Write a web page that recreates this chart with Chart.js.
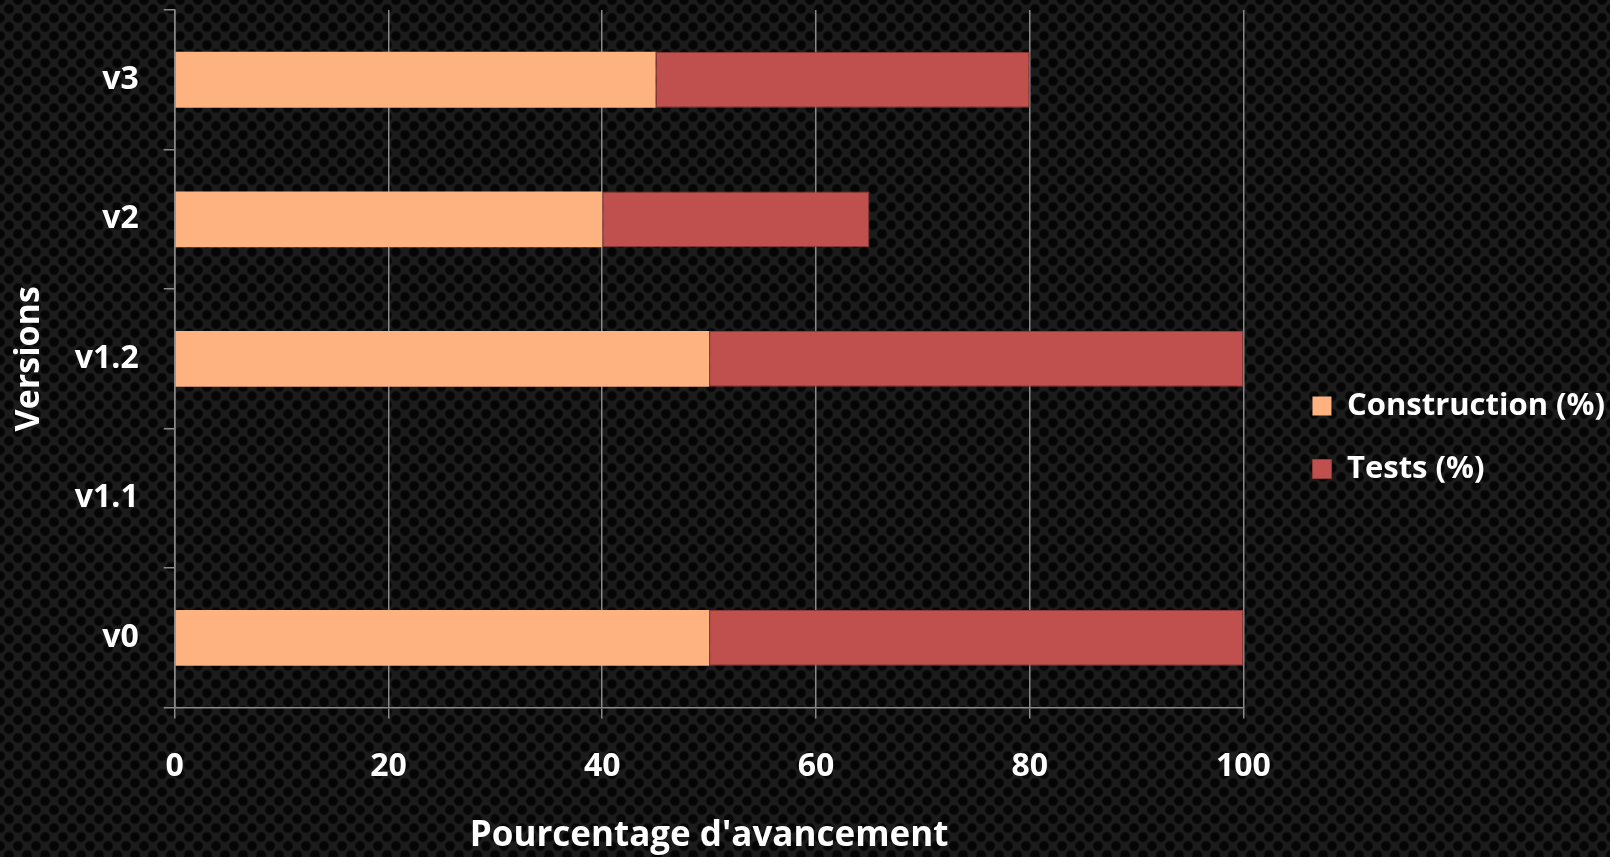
<!DOCTYPE html>
<html>
<head>
<meta charset="utf-8">
<script src="https://cdn.jsdelivr.net/npm/chart.js@4.4.1/dist/chart.umd.min.js"></script>
<style>
  html, body { margin: 0; padding: 0; }
  body {
    width: 1610px; height: 857px; overflow: hidden;
    background-color: #1c1c1c;
    background-image:
      radial-gradient(circle, #050505 30%, rgba(0,0,0,0) 46%),
      radial-gradient(circle, #050505 30%, rgba(0,0,0,0) 46%);
    background-size: 18px 18px;
    background-position: 0 0, 9px 9px;
  }
  #wrap { position: relative; width: 1610px; height: 857px; }
</style>
</head>
<body>
<div id="wrap"><canvas id="chart"></canvas></div>
<script>
// === données ===
const versions = ["v0", "v1.1", "v1.2", "v2", "v3"];
const construction = [50, null, 50, 40, 45];
const tests = [50, null, 50, 25, 35];
const xTicks = [0, 20, 40, 60, 80, 100];

const FONT = "Open Sans";
const gridColor = "#8a8a8a";
const GAP = 32;

// espace entre le graphique et la légende
const legendGap = {
    id: "legendGap",
    beforeInit(chart) {
        const fit = chart.legend.fit;
        chart.legend.fit = function () {
            fit.call(this);
            this.width += GAP;
        };
    },
    afterLayout(chart) {
        chart.legend.left += GAP + 5;
        chart.legend.top += 8;
    },
};

const ctx = document.getElementById("chart").getContext("2d");
new Chart(ctx, {
    type: "bar",
    data: {
        labels: versions,
        datasets: [
            {
                label: "Construction (%)",
                data: construction,
                backgroundColor: "#FDB27F",
                borderWidth: 0,
            },
            {
                label: "Tests (%)",
                data: tests,
                backgroundColor: "#C0504D",
                borderColor: "#8E3A38",
                borderWidth: 1,
                borderSkipped: false,
            },
        ],
    },
    options: {
        indexAxis: "y",
        responsive: true,
        maintainAspectRatio: false,
        animation: false,
        layout: { padding: { top: 10, left: 5, right: 0, bottom: 0 } },
        scales: {
            x: {
                stacked: true,
                min: 0,
                max: 100,
                afterBuildTicks(scale) {
                    scale.ticks = xTicks.map((v) => ({ value: v }));
                },
                grid: {
                    color: gridColor,
                    lineWidth: 1.5,
                    tickLength: 11,
                },
                border: { color: gridColor, width: 1.5 },
                ticks: {
                    color: "#ffffff",
                    padding: 29,
                    font: { family: FONT, size: 32, weight: "bold" },
                },
                title: {
                    display: true,
                    text: "Pourcentage d'avancement",
                    color: "#ffffff",
                    padding: { top: 0, bottom: 0 },
                    font: { family: FONT, size: 35, weight: "bold" },
                },
            },
            y: {
                stacked: true,
                reverse: true,
                afterFit(scale) {
                    scale.paddingTop = 0;
                    scale.paddingBottom = 0;
                },
                grid: {
                    drawOnChartArea: false,
                    color: gridColor,
                    lineWidth: 1.5,
                    tickLength: 11,
                },
                border: { color: gridColor, width: 1.5 },
                ticks: {
                    color: "#ffffff",
                    padding: 25,
                    font: { family: FONT, size: 32, weight: "bold" },
                },
                title: {
                    display: true,
                    text: "Versions",
                    color: "#ffffff",
                    padding: { top: 4, bottom: 0 },
                    font: { family: FONT, size: 34, weight: "bold" },
                },
            },
        },
        datasets: {
            bar: { categoryPercentage: 1, barPercentage: 0.4 },
        },
        plugins: {
            legend: {
                position: "right",
                labels: {
                    color: "#ffffff",
                    boxWidth: 19,
                    boxHeight: 19,
                    padding: 32,
                    font: { family: FONT, size: 31, weight: "bold" },
                },
            },
            tooltip: { enabled: false },
        },
    },
    plugins: [legendGap],
});
</script>
</body>
</html>
